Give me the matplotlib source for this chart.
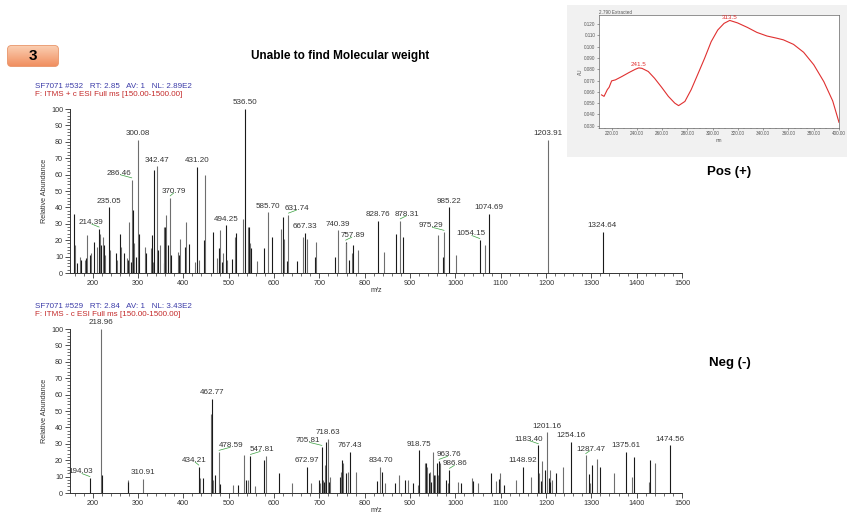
import numpy as np
import matplotlib
matplotlib.use('Agg')
import matplotlib.pyplot as plt
from matplotlib.patches import FancyBboxPatch, Rectangle
from matplotlib.ticker import MultipleLocator
from matplotlib.colors import LinearSegmentedColormap

plt.rcParams['font.family'] = ['Liberation Sans', 'DejaVu Sans']

# positive mode spectrum (m/z, relative abundance)
pos_mz = [158.5, 161.5, 164.4, 171.8, 174.7, 182.0, 184.2, 187.2, 193.1, 195.3,
          202.6, 209.2, 214.39, 215.9, 218.8, 222.5, 224.7, 227.6, 235.05, 238.0,
          250.5, 254.2, 261.0, 263.0, 269.6, 274.7, 277.6, 280.6, 283.5, 286.46,
          288.7, 290.9, 294.9, 300.08, 303.0, 314.8, 317.0, 327.8, 331.4, 333.6,
          335.9, 342.47, 344.7, 347.6, 356.8, 358.3, 359.8, 361.2, 365.6, 370.79,
          373.0, 387.7, 390.6, 392.8, 404.0, 406.9, 413.6, 425.3, 431.20, 435.6,
          445.2, 448.8, 464.9, 475.1, 478.8, 481.0, 485.4, 488.4, 494.25, 496.5,
          507.1, 513.7, 515.9, 530.6, 536.50, 541.6, 545.3, 546.8, 549.0, 562.2,
          578.4, 585.70, 594.5, 615.6, 619.2, 621.4, 628.8, 631.74, 649.7, 663.7,
          667.33, 673.2, 689.4, 691.6, 735.2, 740.39, 757.89, 759.4, 765.2, 771.1,
          774.8, 785.1, 828.76, 842.0, 869.5, 878.31, 884.9, 962.1, 973.1, 975.29,
          985.22, 1001.4, 1054.15, 1064.8, 1074.69, 1203.91, 1324.64]
pos_int = [36, 17, 6, 10, 8, 8, 9, 23, 11, 12,
           19, 16, 27, 24, 17, 22, 17, 11, 40, 14,
           12, 8, 24, 16, 12, 9, 8, 31, 7, 57,
           38.5, 18, 10, 81, 24, 16, 12, 15, 23, 7,
           63, 65, 14, 17, 6, 28, 28, 35.5, 17, 46,
           11, 13, 11, 21, 16, 31, 17.5, 7, 64.5, 8,
           20, 60, 25, 9, 15, 26, 7, 12, 29, 8,
           8.5, 22, 24.5, 33, 100, 28, 28, 18, 15, 7.5,
           15, 37, 22, 27, 34, 20.5, 7.5, 35.5, 7.5, 22,
           24.5, 21, 10, 19, 10, 26, 19, 18, 8, 12,
           17, 14, 32, 13, 24, 32, 22, 23, 10, 25,
           40, 11, 20, 17, 36, 81, 25]
pos_labels = [214.39, 235.05, 286.46, 300.08, 342.47, 370.79, 431.20, 494.25,
              536.50, 585.70, 631.74, 667.33, 740.39, 757.89, 828.76, 878.31,
              975.29, 985.22, 1054.15, 1074.69, 1203.91, 1324.64]

# negative mode spectrum
neg_mz = [194.03, 218.96, 221.2, 277.1, 278.6, 310.91, 434.21, 437.2, 442.3, 460.6,
          462.77, 465.0, 470.1, 478.59, 480.8, 509.6, 519.9, 534.6, 537.5, 541.9,
          547.81, 558.8, 577.2, 583.1, 610.0, 640.6, 672.97, 682.5, 699.9, 702.1,
          705.81, 708.0, 711.0, 713.5, 715.7, 718.63, 720.8, 724.5, 745.4, 747.6,
          750.5, 752.7, 757.9, 763.0, 767.43, 780.7, 828.1, 834.70, 839.1, 845.0,
          866.8, 876.4, 887.9, 894.5, 906.3, 917.3, 918.75, 932.0, 934.9, 938.6,
          943.0, 945.2, 947.4, 949.8, 952.7, 955.7, 958.6, 960.8, 963.76, 966.0,
          978.8, 983.2, 986.86, 1006.7, 1011.8, 1037.0, 1039.3, 1051.0, 1079.1, 1089.4,
          1095.3, 1098.2, 1107.0, 1133.5, 1148.92, 1166.6, 1183.40, 1184.9, 1188.5, 1190.9,
          1198.2, 1201.16, 1206.3, 1207.8, 1209.2, 1213.7, 1221.0, 1236.5, 1254.16, 1287.47,
          1294.8, 1297.8, 1301.4, 1313.2, 1319.1, 1350.6, 1375.61, 1389.6, 1393.3, 1427.5,
          1430.5, 1441.5, 1474.56]
neg_int = [9, 100, 11, 8, 7, 8.5, 16, 9, 9, 48,
           57.5, 8, 11, 25, 5.5, 5, 5, 23, 8, 8,
           22.5, 4, 20, 22.5, 12, 6, 16, 6, 8, 6,
           28, 8, 7, 17, 31, 33, 7, 10, 10, 13,
           20, 18, 12, 13, 25, 13, 7.5, 16, 13, 6,
           6, 11, 8, 8, 6, 5, 26, 18, 18, 16,
           12, 13, 7, 25, 11, 11, 18, 11, 19.5, 18,
           8, 6, 14, 7, 6, 9, 7.5, 6, 12.5, 7.5,
           8.5, 12, 5, 8, 16, 10, 29, 12, 7.5, 19.5,
           14, 37, 9, 14, 7, 8, 12, 16, 31, 23,
           11.5, 6, 17, 20.5, 16, 12, 25, 9.5, 22, 7,
           20, 18, 29]
neg_labels = [194.03, 218.96, 310.91, 434.21, 462.77, 478.59, 547.81, 672.97,
              705.81, 718.63, 767.43, 834.70, 918.75, 963.76, 986.86, 1148.92,
              1183.40, 1201.16, 1254.16, 1287.47, 1375.61, 1474.56]

# UV trace of the inset
uv_nm = [212, 214, 216.6, 218, 220, 223, 228, 233.6, 238.8, 241.5, 244, 249, 254,
         259.6, 264.9, 270, 273, 278, 283, 288, 293.6, 298.8, 304, 309, 313.5,
         319.7, 327.5, 335, 343, 351, 356, 364, 372, 380, 388, 395, 400]
uv_au = [0.0573, 0.0560, 0.0620, 0.0640, 0.0697, 0.0706, 0.0735, 0.0770, 0.0800,
         0.0812, 0.0808, 0.0780, 0.0720, 0.0640, 0.0560, 0.0500, 0.0478, 0.0515,
         0.0620, 0.0750, 0.0897, 0.1044, 0.1147, 0.1206, 0.1232, 0.1210, 0.1170,
         0.1126, 0.1094, 0.1074, 0.1060, 0.1020, 0.0950, 0.0840, 0.0690, 0.0520,
         0.0330]
uv_peaks = [241.5, 313.5]

# label nudges in points (horizontal)
pos_shift = {214.39: -6, 286.46: -9, 370.79: 3, 631.74: 6.5, 757.89: 5,
             878.31: 5, 975.29: -9.5, 1054.15: -6.5}
neg_shift = {194.03: -6.5, 434.21: -3, 478.59: 9, 547.81: 8, 705.81: -10,
             963.76: 7, 986.86: 4, 1183.40: -7, 1287.47: 3.5}

W, H = 847, 516
fig = plt.figure(figsize=(W / 100, H / 100), dpi=100)


def fx(x):
    return x / W


def fy(y):
    return 1 - y / H


def spectrum(top, mz, inten, labels, shift, head1, head2):
    ax = fig.add_axes([fx(70), fy(top + 164), fx(612), 164 / H])
    colors = ['#1a1a1a' if i % 2 == 0 else '#6e6e6e' for i in range(len(mz))]
    ax.vlines(mz, 0, inten, colors=colors, linewidth=0.8)
    ax.set_xlim(150, 1500)
    ax.set_ylim(0, 100)
    for s in ['top', 'right']:
        ax.spines[s].set_visible(False)
    for s in ['left', 'bottom']:
        ax.spines[s].set_linewidth(0.7)
        ax.spines[s].set_color('#333333')
    ax.xaxis.set_minor_locator(MultipleLocator(20))
    ax.set_xticks(np.arange(200, 1501, 100))
    ax.yaxis.set_major_locator(MultipleLocator(10))
    ax.yaxis.set_minor_locator(MultipleLocator(2))
    ax.tick_params(which='major', length=3.5, width=0.6, labelsize=5.2,
                   colors='#333333', pad=1.5)
    ax.tick_params(which='minor', length=2, width=0.5, colors='#333333')
    ax.set_ylabel('Relative Abundance', fontsize=5.2, color='#333333', labelpad=2)
    ax.set_xlabel('m/z', fontsize=5.2, color='#333333')
    ax.xaxis.set_label_coords(0.5, -0.085)
    lookup = dict(zip(mz, inten))
    for m in labels:
        dx = shift.get(m, 0)
        ax.annotate(f'{m:.2f}', xy=(m, lookup[m]), xytext=(dx, 2),
                    textcoords='offset points', ha='center', va='bottom',
                    fontsize=5.8, color='#333333', annotation_clip=False)
        if dx:
            ax.annotate('', xy=(m, lookup[m] + 1), xytext=(dx * 0.9, 2.2),
                        textcoords='offset points',
                        arrowprops=dict(arrowstyle='-', color='#3aa040', lw=0.5,
                                        shrinkA=0, shrinkB=0))
    fig.text(fx(35), fy(top - 22), head1, fontsize=5.8, color='#3b3ba8', va='center')
    fig.text(fx(35), fy(top - 14), head2, fontsize=5.8, color='#c42a2a', va='center')
    return ax


spectrum(109, pos_mz, pos_int, pos_labels, pos_shift,
         'SF7071 #532   RT: 2.85   AV: 1   NL: 2.89E2',
         'F: ITMS + c ESI Full ms [150.00-1500.00]')
spectrum(329, neg_mz, neg_int, neg_labels, neg_shift,
         'SF7071 #529   RT: 2.84   AV: 1   NL: 3.43E2',
         'F: ITMS - c ESI Full ms [150.00-1500.00]')

# title and mode captions
fig.text(fx(340), fy(56), 'Unable to find Molecular weight', fontsize=8.5,
         fontweight='bold', ha='center', va='center')
fig.text(fx(729), fy(172), 'Pos (+)', fontsize=9.5, fontweight='bold',
         ha='center', va='center')
fig.text(fx(730), fy(363), 'Neg (-)', fontsize=9.5, fontweight='bold',
         ha='center', va='center')

# numbered badge
bx = fig.add_axes([fx(7), fy(67), fx(52), 22 / H])
bx.set_xlim(0, 52)
bx.set_ylim(0, 22)
bx.axis('off')
badge = FancyBboxPatch((0.5, 0.5), 51, 21, boxstyle='round,pad=0,rounding_size=4',
                       facecolor='none', edgecolor='#e8956a', linewidth=0.6)
bx.add_patch(badge)
cmap = LinearSegmentedColormap.from_list('badge', ['#f08c5c', '#fbd0b4'])
grad = bx.imshow(np.linspace(0, 1, 50).reshape(-1, 1), extent=[0, 52, 0, 22],
                 cmap=cmap, origin='lower', aspect='auto')
grad.set_clip_path(badge)
bx.text(26, 11, '3', fontsize=11, fontweight='bold', ha='center', va='center')

# UV inset on grey panel
fig.add_artist(Rectangle((fx(567), fy(157)), fx(280), 152 / H, transform=fig.transFigure,
                         facecolor='#f1f1f1', edgecolor='none', zorder=1))
ix = fig.add_axes([fx(599), fy(128), fx(240), 113 / H], zorder=2)
ix.plot(uv_nm, uv_au, color='#e03030', linewidth=0.8)
ix.set_xlim(210, 400)
ix.set_ylim(0.028, 0.128)
ix.set_xticks(np.arange(220, 401, 20))
ix.set_xticklabels([f'{v:.2f}' for v in np.arange(220, 401, 20)])
ix.set_yticks(np.arange(0.03, 0.121, 0.01))
ix.set_yticklabels([f'{v:.3f}' for v in np.arange(0.03, 0.121, 0.01)])
ix.xaxis.set_minor_locator(MultipleLocator(5))
ix.tick_params(which='major', length=1.5, width=0.4, labelsize=3.3, colors='#555555', pad=1)
ix.tick_params(which='minor', length=0.8, width=0.3, colors='#555555')
for s in ix.spines.values():
    s.set_linewidth(0.5)
    s.set_color('#666666')
ix.set_xlabel('nm', fontsize=3.3, color='#555555', labelpad=1)
ix.set_ylabel('AU', fontsize=3.3, color='#555555', labelpad=1)
ix.set_title('2.790 Extracted', fontsize=3.3, color='#555555', loc='left', pad=1)
uv_lookup = dict(zip(uv_nm, uv_au))
for p in uv_peaks:
    ix.annotate(f'{p:.1f}', xy=(p, uv_lookup[p]), xytext=(0, 0.5),
                textcoords='offset points', ha='center', va='bottom',
                fontsize=4.5, color='#e03030')

fig.savefig('out.png', dpi=100)
